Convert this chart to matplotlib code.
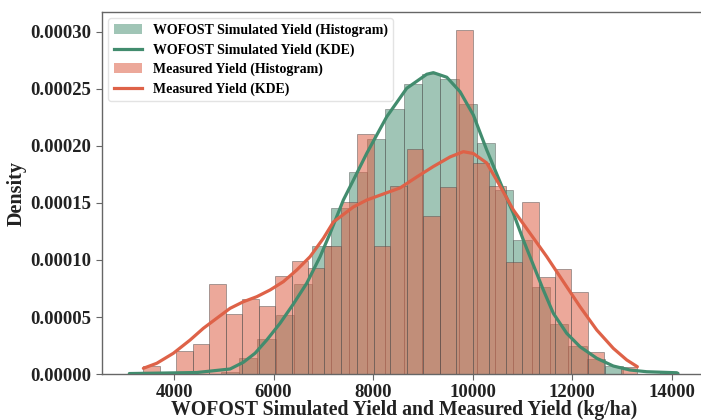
import numpy as np
import matplotlib
matplotlib.use('Agg')
import matplotlib.pyplot as plt
from matplotlib.patches import Patch
from matplotlib.lines import Line2D

# data ranges (kg/ha) and histogram densities, 30 bins each
sim_range = (3101, 14130)
sim_density = [0, 0, 0, 0, 0, 1.5e-6, 1.38e-5, 3.1e-5, 5.15e-5, 7.9e-5,
               1.123e-4, 1.453e-4, 1.774e-4, 2.06e-4, 2.32e-4, 2.544e-4, 2.63e-4, 2.585e-4, 2.37e-4, 2.03e-4,
               1.61e-4, 1.175e-4, 7.6e-5, 4.42e-5, 2.47e-5, 1.3e-5, 7e-6, 0, 0, 1.5e-6]

meas_range = (3383, 13313)
meas_density = [7.3e-6, 0, 2.0e-5, 2.66e-5, 7.9e-5, 5.26e-5, 6.6e-5, 5.96e-5, 8.57e-5, 9.9e-5,
                9.27e-5, 1.123e-4, 1.51e-4, 2.107e-4, 1.123e-4, 1.65e-4, 1.97e-4, 1.386e-4, 1.64e-4, 3.02e-4,
                1.85e-4, 1.65e-4, 9.85e-5, 1.51e-4, 8.48e-5, 9.18e-5, 7.22e-5, 1.96e-5, 0, 6.4e-6]

# kernel density curves
sim_kde_x = [3101, 4456, 5126, 5393, 5628, 5863, 6131, 6398, 6667, 6935, 7136, 7403, 7604, 7874,
             8276, 8677, 9079, 9212, 9482, 9749, 10016, 10285, 10352, 10553, 10754, 10820, 11021,
             11222, 11423, 11624, 11893, 12161, 12497, 12830, 13166, 13502, 14104, 14130]
sim_kde_y = [4e-7, 1.3e-6, 4.4e-6, 1.03e-5, 1.82e-5, 2.98e-5, 4.45e-5, 6.14e-5, 7.96e-5, 1.029e-4,
             1.234e-4, 1.526e-4, 1.70e-4, 1.936e-4, 2.257e-4, 2.506e-4, 2.629e-4, 2.643e-4, 2.603e-4,
             2.476e-4, 2.272e-4, 1.965e-4, 1.895e-4, 1.684e-4, 1.474e-4, 1.41e-4, 1.175e-4, 9.56e-5,
             7.37e-5, 5.32e-5, 3.57e-5, 2.39e-5, 1.38e-5, 7.0e-6, 3.5e-6, 2.0e-6, 1.1e-6, 5e-7]

meas_kde_x = [3383, 3652, 3986, 4322, 4589, 4858, 5126, 5393, 5662, 5930, 6197, 6466, 6734, 7001,
              7202, 7604, 7874, 8207, 8543, 8878, 9212, 9548, 9815, 10016, 10285, 10553, 10820,
              11156, 11492, 11825, 12161, 12497, 12830, 13100, 13313]
meas_kde_y = [5.0e-6, 9.4e-6, 1.82e-5, 2.98e-5, 4.01e-5, 4.89e-5, 5.76e-5, 6.34e-5, 6.78e-5, 7.37e-5,
              8.10e-5, 9.12e-5, 1.029e-4, 1.19e-4, 1.333e-4, 1.465e-4, 1.526e-4, 1.579e-4, 1.632e-4,
              1.728e-4, 1.82e-4, 1.904e-4, 1.95e-4, 1.934e-4, 1.851e-4, 1.649e-4, 1.439e-4, 1.234e-4,
              1.029e-4, 8.1e-5, 5.9e-5, 3.86e-5, 2.25e-5, 1.23e-5, 6.4e-6]

labels = ['WOFOST Simulated Yield (Histogram)', 'WOFOST Simulated Yield (KDE)',
          'Measured Yield (Histogram)', 'Measured Yield (KDE)']

green = '#428c6e'
red = '#de6248'
green_alpha = 0.5
red_alpha = 0.55

plt.rcParams['font.family'] = ['Liberation Serif', 'DejaVu Serif']
plt.rcParams['font.weight'] = 'bold'

fig = plt.figure(figsize=(7.01, 4.2), dpi=100)
ax = fig.add_axes([0.1454, 0.1095, 0.8609, 0.8619])


def draw_hist(ax, rng, dens, color, alpha):
    edges = np.linspace(rng[0], rng[1], len(dens) + 1)
    ax.bar(edges[:-1], dens, width=np.diff(edges), align='edge', color=color, alpha=alpha,
           edgecolor=(0.3, 0.3, 0.3, 0.35), linewidth=0.6, zorder=2)


draw_hist(ax, sim_range, sim_density, green, green_alpha)
draw_hist(ax, meas_range, meas_density, red, red_alpha)
ax.plot(sim_kde_x, sim_kde_y, color=green, lw=2.3, zorder=3, solid_capstyle='round')
ax.plot(meas_kde_x, meas_kde_y, color=red, lw=2.3, zorder=3, solid_capstyle='round')

ax.set_xlim(2550, 14681)
ax.set_ylim(0, 3.175e-4)
ax.set_xticks([4000, 6000, 8000, 10000, 12000, 14000])
ax.set_yticks(np.arange(0, 3.01e-4, 5e-5))
ax.yaxis.set_major_formatter(matplotlib.ticker.FormatStrFormatter('%.5f'))
ax.tick_params(labelsize=13.5, colors='#222222', length=4, width=0.8)
ax.tick_params(axis='both', color='#666666')
for s in ['left', 'bottom', 'top', 'right']:
    ax.spines[s].set_color('#666666')
    ax.spines[s].set_linewidth(1.0)

ax.set_xlabel('WOFOST Simulated Yield and Measured Yield (kg/ha)', fontsize=14.2,
              fontweight='bold', labelpad=-1, color='#222222')
ax.set_ylabel('Density', fontsize=14.5, fontweight='bold', labelpad=3, color='#222222')

handles = [Patch(facecolor=green, alpha=green_alpha), Line2D([], [], color=green, lw=2.3),
           Patch(facecolor=red, alpha=red_alpha), Line2D([], [], color=red, lw=2.3)]
leg = ax.legend(handles, labels, loc='upper left', fontsize=10, frameon=True,
                borderaxespad=0.45, handlelength=2.0, labelspacing=0.43)
leg.get_frame().set_edgecolor('#dddddd')

fig.savefig('out.png', dpi=100)
